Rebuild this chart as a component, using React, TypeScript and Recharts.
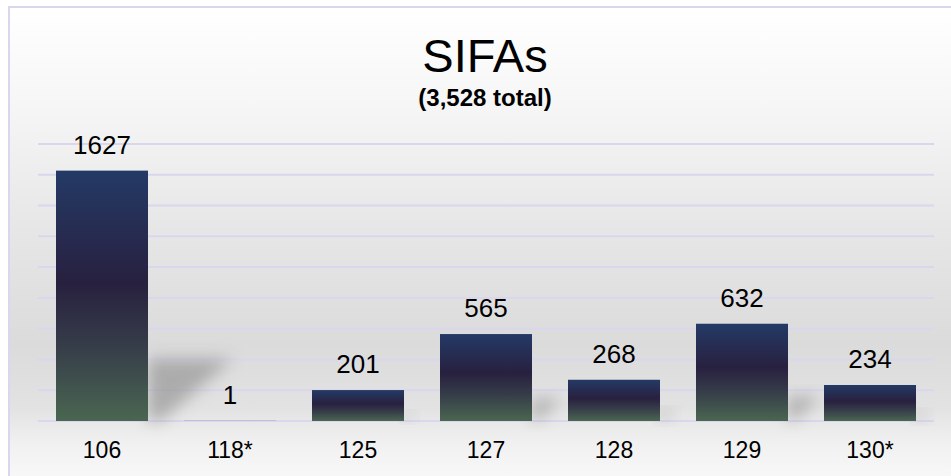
import React from 'react'
import { BarChart, Bar, XAxis, YAxis, CartesianGrid, LabelList } from 'recharts'

const categories = ['106', '118*', '125', '127', '128', '129', '130*']
const counts = [1627, 1, 201, 565, 268, 632, 234]
const yTicks = [0, 200, 400, 600, 800, 1000, 1200, 1400, 1600, 1800]

const data = categories.map((c, i) => ({ name: c, value: counts[i] }))

const FONT = '"Liberation Sans", Arial, Helvetica, sans-serif'
const GRID = '#d9d6ee'

if (typeof document !== 'undefined') document.body.style.margin = '0'

// bar with a soft floor shadow to its right
const ShadowBar = (props: any) => {
  const { x, y, width, height } = props
  if (!height || height <= 0) return null
  const base = y + height
  const right = x + width
  const top = base - height * 0.25
  const pts = `${right},${top} ${right + height * 0.34},${top} ${right + height * 0.05},${base} ${right},${base}`
  return (
    <g>
      {height > 3 && <polygon points={pts} fill="#8a8a8a" opacity={0.6} filter="url(#shBlur)" />}
      <rect x={x} y={y} width={width} height={height} fill="url(#barGrad)" />
    </g>
  )
}

export default function App() {
  return (
    <div style={{ position: 'relative', width: 951, height: 476, overflow: 'hidden', fontFamily: FONT }}>
      <div
        style={{
          position: 'absolute', left: 8, top: 6, width: 960, height: 480,
          borderLeft: `2px solid ${GRID}`, borderTop: `2px solid ${GRID}`,
          background: 'linear-gradient(to bottom, #ffffff 0%, #f6f6f6 20%, #e7e7e7 45%, #dbdbdb 70%, #e2e2e2 83%, #f1f1f1 91%, #fafafa 100%)',
        }}
      />
      <svg width={951} height={130} style={{ position: 'absolute', left: 0, top: 0 }}>
        <text x={485} y={72} textAnchor="middle" fontSize={47} fontFamily={FONT} fill="#000">SIFAs</text>
        <text x={485} y={106} textAnchor="middle" fontSize={24} fontWeight="bold" fontFamily={FONT} fill="#000">(3,528 total)</text>
      </svg>
      <div style={{ position: 'absolute', left: 0, top: 0 }}>
        <BarChart width={951} height={476} data={data} margin={{ top: 144, right: 17, left: 38, bottom: 25 }}>
          <defs>
            <linearGradient id="barGrad" x1="0" y1="0" x2="0" y2="1">
              <stop offset="0%" stopColor="#243a66" />
              <stop offset="45%" stopColor="#28203f" />
              <stop offset="70%" stopColor="#363d49" />
              <stop offset="100%" stopColor="#4a6651" />
            </linearGradient>
            <filter id="shBlur" x="-50%" y="-50%" width="200%" height="200%">
              <feGaussianBlur stdDeviation="8" />
            </filter>
          </defs>
          <CartesianGrid vertical={false} stroke={GRID} strokeWidth={2} />
          <YAxis hide domain={[0, 1800]} ticks={yTicks} />
          <XAxis
            dataKey="name"
            axisLine={false}
            tickLine={false}
            tickSize={0}
            tickMargin={21}
            height={30}
            tick={{ fontSize: 23, fill: '#000', fontFamily: FONT }}
          />
          <Bar dataKey="value" barSize={92} shape={ShadowBar} isAnimationActive={false}>
            <LabelList dataKey="value" position="top" offset={17} style={{ fontSize: 26, fill: '#000', fontFamily: FONT }} />
          </Bar>
        </BarChart>
      </div>
    </div>
  )
}
